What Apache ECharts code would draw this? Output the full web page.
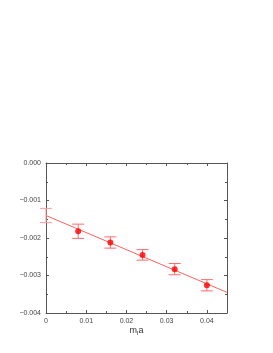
<!DOCTYPE html>
<html><head><meta charset="utf-8">
<script src="https://cdn.jsdelivr.net/npm/echarts@6/dist/echarts.min.js"></script>
<style>html,body{margin:0;padding:0;background:#fff}#c{width:273px;height:353px}</style>
</head><body><div id="c"></div>
<script>
const mass = [0.008, 0.016, 0.024, 0.032, 0.040];
const values = [-0.00182, -0.00212, -0.00245, -0.00283, -0.00326];
const errors = [0.00019, 0.00015, 0.00014, 0.00015, 0.00015];
const extrapX = [0];
const extrapY = [-0.00140];
const extrapErr = [0.00019];
const fitX = [0, 0.045];
const fitY = [-0.00140, -0.00345];

const chart = echarts.init(document.getElementById('c'), null, {renderer: 'canvas'});
const axisCol = '#555';
const FONT = 'Liberation Sans';
const lblStyle = {fontSize: 7, color: '#444', fontFamily: FONT};

function errSeries(xs, ys, es, color, z) {
  return {
    type: 'custom', z: z,
    data: xs.map((x, i) => [x, ys[i] - es[i], ys[i] + es[i]]),
    renderItem: function (params, api) {
      const lo = api.coord([api.value(0), api.value(1)]);
      const hi = api.coord([api.value(0), api.value(2)]);
      const w = 6;
      const st = {stroke: color, lineWidth: 1};
      return {type: 'group', children: [
        {type: 'line', shape: {x1: lo[0], y1: lo[1], x2: hi[0], y2: hi[1]}, style: st},
        {type: 'line', shape: {x1: lo[0]-w, y1: lo[1], x2: lo[0]+w, y2: lo[1]}, style: st},
        {type: 'line', shape: {x1: hi[0]-w, y1: hi[1], x2: hi[0]+w, y2: hi[1]}, style: st}
      ]};
    }
  };
}

const tickCommon = {inside: true, length: 3, lineStyle: {color: axisCol}};
chart.setOption({
  animation: false,
  grid: {left: 46, right: 46, top: 163, bottom: 40, show: false},
  xAxis: [{
    type: 'value', min: 0, max: 0.045, interval: 0.01,
    axisLine: {show: true, onZero: false, lineStyle: {color: axisCol}},
    axisTick: tickCommon,
    minorTick: {show: true, splitNumber: 2, length: 2, lineStyle: {color: axisCol}},
    splitLine: {show: false},
    axisLabel: Object.assign({margin: 5, formatter: v => v === 0 ? '0' : v.toFixed(2), showMaxLabel: false}, lblStyle),
    name: '{m|m}{s|l}{m|a}', nameLocation: 'middle', nameGap: 10,
    nameTextStyle: {rich: {m: {fontSize: 9, color: '#333', fontFamily: FONT}, s: {fontSize: 6, color: '#333', fontFamily: FONT, verticalAlign: 'bottom', padding: [5,0,0,0]}}}
  }, {
    type: 'value', position: 'top', min: 0, max: 0.045, interval: 0.01,
    axisLine: {show: true, onZero: false, lineStyle: {color: axisCol}},
    axisTick: tickCommon,
    minorTick: {show: true, splitNumber: 2, length: 2, lineStyle: {color: axisCol}},
    splitLine: {show: false}, axisLabel: {show: false}
  }],
  yAxis: [{
    type: 'value', min: -0.004, max: 0, interval: 0.001,
    axisLine: {show: true, onZero: false, lineStyle: {color: axisCol}},
    axisTick: tickCommon,
    minorTick: {show: true, splitNumber: 2, length: 2, lineStyle: {color: axisCol}},
    splitLine: {show: false},
    axisLabel: Object.assign({margin: 5, formatter: v => v === 0 ? '0.000' : '\u2212' + Math.abs(v).toFixed(3)}, lblStyle)
  }, {
    type: 'value', position: 'right', min: -0.004, max: 0, interval: 0.001,
    axisLine: {show: true, onZero: false, lineStyle: {color: axisCol}},
    axisTick: tickCommon,
    minorTick: {show: true, splitNumber: 2, length: 2, lineStyle: {color: axisCol}},
    splitLine: {show: false}, axisLabel: {show: false}
  }],
  series: [
    {type: 'line', data: fitX.map((x, i) => [x, fitY[i]]), symbol: 'none',
     lineStyle: {color: '#ff6060', width: 1}, z: 2, silent: true},
    errSeries(extrapX, extrapY, extrapErr, '#ff9a9a', 3),
    errSeries(mass, values, errors, '#ff6a6a', 3),
    {type: 'scatter', data: mass.map((x, i) => [x, values[i]]), symbol: 'circle', symbolSize: 6,
     itemStyle: {color: '#ff0000'}, z: 4}
  ]
});
</script></body></html>
